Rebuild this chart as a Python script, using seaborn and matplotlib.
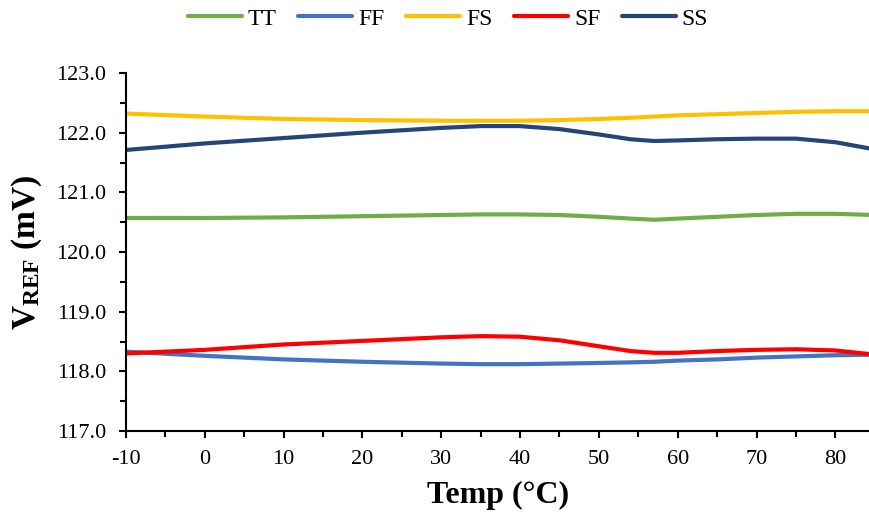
import matplotlib
matplotlib.use("Agg")
import matplotlib.pyplot as plt
import seaborn as sns
import pandas as pd
from matplotlib.ticker import MultipleLocator, FormatStrFormatter
from matplotlib.lines import Line2D

# ---- data ----
temps = [-10, 0, 10, 20, 30, 35, 40, 45, 50, 54, 57, 60, 65, 70, 75, 80, 85]
series_names = ["TT", "FF", "FS", "SF", "SS"]
tt = [120.57, 120.57, 120.58, 120.60, 120.62, 120.63, 120.63, 120.62, 120.59,
      120.56, 120.54, 120.56, 120.59, 120.62, 120.64, 120.64, 120.62]
ff = [118.33, 118.26, 118.20, 118.16, 118.13, 118.12, 118.12, 118.13, 118.14,
      118.15, 118.16, 118.18, 118.20, 118.23, 118.25, 118.27, 118.28]
fs = [122.32, 122.27, 122.23, 122.21, 122.20, 122.20, 122.20, 122.21, 122.23,
      122.25, 122.27, 122.29, 122.31, 122.33, 122.35, 122.36, 122.36]
sf = [118.30, 118.36, 118.45, 118.51, 118.57, 118.59, 118.58, 118.52, 118.42,
      118.34, 118.31, 118.31, 118.34, 118.36, 118.37, 118.35, 118.28]
ss = [121.71, 121.82, 121.91, 122.00, 122.08, 122.11, 122.11, 122.06, 121.97,
      121.89, 121.86, 121.87, 121.89, 121.90, 121.90, 121.84, 121.72]
x_ticks = [-10, 0, 10, 20, 30, 40, 50, 60, 70, 80]
y_ticks = [117.0, 118.0, 119.0, 120.0, 121.0, 122.0, 123.0]

colors = {"TT": "#70AD47", "FF": "#4472C4", "FS": "#FFC000",
          "SF": "#FF0000", "SS": "#264478"}

values = {"TT": tt, "FF": ff, "FS": fs, "SF": sf, "SS": ss}
rows = []
for name in series_names:
    for t, v in zip(temps, values[name]):
        rows.append({"Temp": t, "V": v, "Series": name})
df = pd.DataFrame(rows)

sns.set_theme(style="white")
plt.rcParams["font.family"] = ["Liberation Serif", "DejaVu Serif"]
plt.rcParams["mathtext.fontset"] = "custom"
plt.rcParams["mathtext.rm"] = "Liberation Serif"
plt.rcParams["mathtext.bf"] = "Liberation Serif:bold"
plt.rcParams["mathtext.it"] = "Liberation Serif:italic"
plt.rcParams["axes.unicode_minus"] = False
plt.rcParams["text.color"] = "black"
plt.rcParams["axes.labelcolor"] = "black"

fig = plt.figure(figsize=(8.7, 5.18), dpi=100)
ax = fig.add_axes([126 / 870, 87 / 518, 1 - 126 / 870, (431 - 73) / 518])

sns.lineplot(data=df, x="Temp", y="V", hue="Series", hue_order=series_names,
             palette=colors, linewidth=3.0, sort=False, legend=False, ax=ax)

ax.set_xlim(-10, 84.4)
ax.set_ylim(117.0, 123.0)
ax.set_xticks(x_ticks)
ax.set_yticks(y_ticks)
ax.xaxis.set_minor_locator(MultipleLocator(5))
ax.yaxis.set_minor_locator(MultipleLocator(0.5))
ax.yaxis.set_major_formatter(FormatStrFormatter("%.1f"))

for s in ["top", "right"]:
    ax.spines[s].set_visible(False)
for s in ["left", "bottom"]:
    ax.spines[s].set_color("black")
    ax.spines[s].set_linewidth(1.5)

ax.tick_params(axis="both", which="major", direction="out", length=5, width=1.5,
               color="black", labelsize=16, labelcolor="black", pad=9)
ax.tick_params(axis="both", which="minor", direction="out", length=4, width=1.5,
               color="black")
ax.tick_params(axis="x", which="both", bottom=True)
ax.tick_params(axis="y", which="both", left=True)

ax.set_xlabel("Temp (°C)", fontsize=23, fontweight="bold", labelpad=8, color="black")
ax.set_ylabel(r"$\mathbf{V}_{\mathbf{REF}}$ (mV)", fontsize=24,
              fontweight="bold", labelpad=9, color="black")

handles = [Line2D([0], [0], color=colors[n], lw=3, solid_capstyle="round")
           for n in series_names]
fig.legend(handles, series_names, loc="center", bbox_to_anchor=(448 / 870, 1 - 19 / 518),
           ncol=5, frameon=False, fontsize=17, handlelength=2.3, handletextpad=0.25,
           columnspacing=0.9, labelcolor="black")

fig.savefig("out.png", dpi=100)
